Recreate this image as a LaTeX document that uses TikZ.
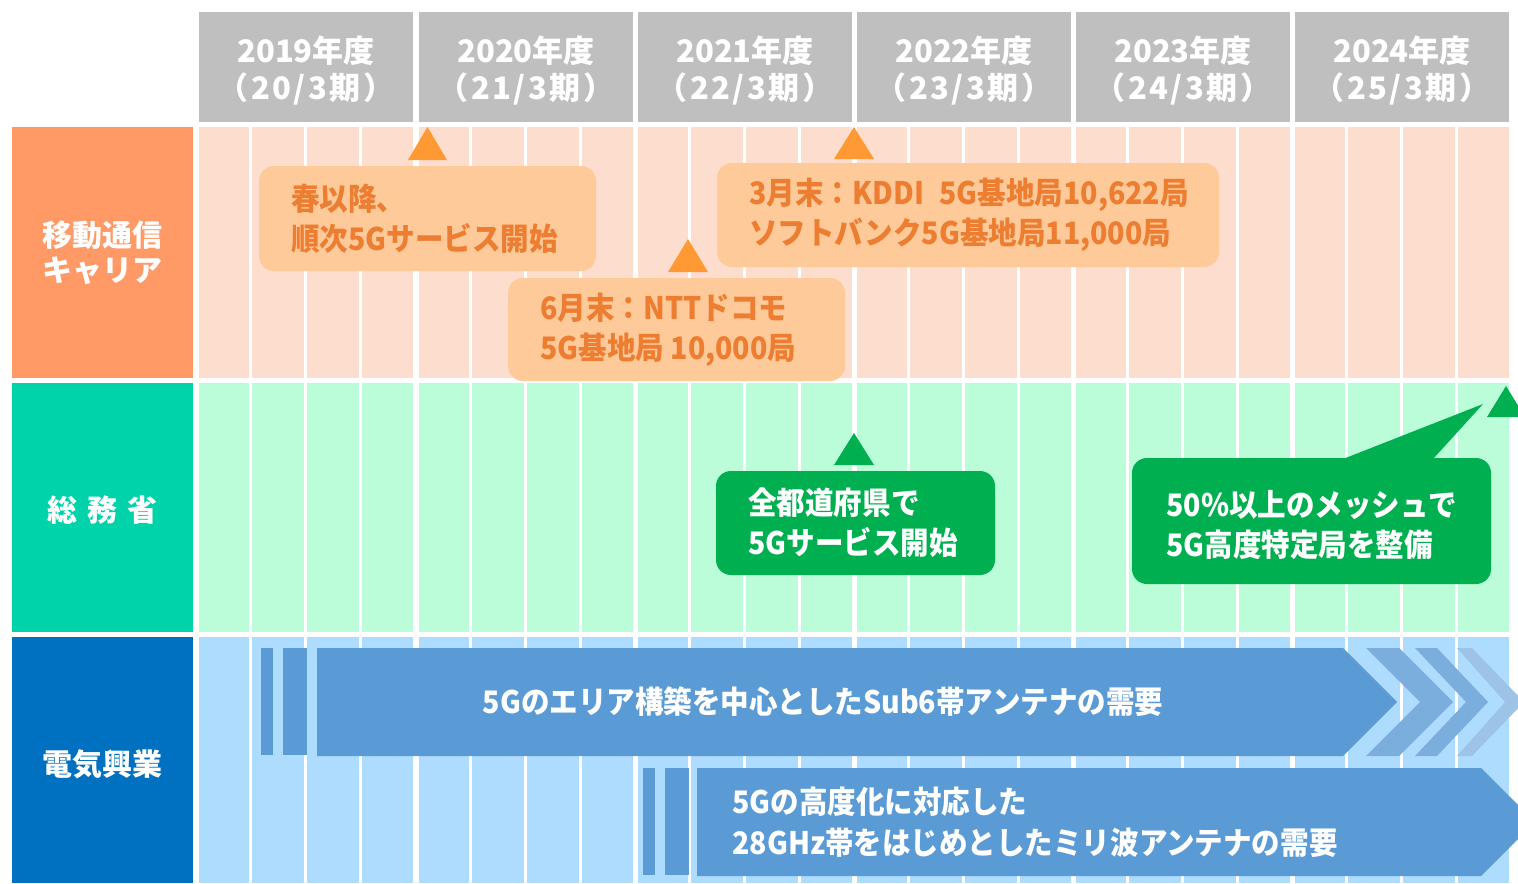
\documentclass[tikz,border=0pt]{standalone}
\usepackage{fontspec}
\newfontfamily\jp{Noto Sans CJK JP}
\newfontfamily\jpc[FakeStretch=0.92]{Noto Sans CJK JP}
\definecolor{hdr}{HTML}{BFBFBF}
\definecolor{olab}{HTML}{FF9966}
\definecolor{ocell}{HTML}{FDDDCD}
\definecolor{oboxc}{HTML}{FFCA99}
\definecolor{otxt}{HTML}{ED7D31}
\definecolor{otri}{HTML}{FF9933}
\definecolor{glab}{HTML}{00D3AA}
\definecolor{gcell}{HTML}{BBFDD9}
\definecolor{gdark}{HTML}{00B050}
\definecolor{blab}{HTML}{0070C0}
\definecolor{bcell}{HTML}{AEDCFE}
\definecolor{barr}{HTML}{5B9BD5}
\definecolor{bchev}{HTML}{7BADDD}
\definecolor{bchevb}{HTML}{9DC3E6}
\newcommand{\lsp}{\addfontfeature{LetterSpace=8}}
\tikzset{
  yearbox/.style={fill=hdr, text=white, minimum width=107pt, minimum height=55pt, inner sep=0pt, align=center, font=\jp\bfseries\fontsize{15.5}{18.5}\selectfont},
  rowlabel/.style={text=white, minimum width=90.5pt, inner sep=0pt, align=center, font=\jp\bfseries\fontsize{15}{17.5}\selectfont},
  callbox/.style={rounded corners=7.5pt, inner sep=0pt},
  calltext/.style={anchor=west, align=left, inner sep=0pt, font=\jpc\bfseries\fontsize{15.5}{20}\selectfont},
  arrtext/.style={text=white, inner sep=0pt, align=left, font=\jpc\bfseries\fontsize{15.5}{20.5}\selectfont},
}
\begin{document}
\begin{tikzpicture}[x=0.5pt,y=-0.5pt]
\useasboundingbox (0,0) rectangle (1518,883);
\fill[white] (0,0) rectangle (1518,883);
\begin{scope}
\clip (0,0) rectangle (1518,883);
% header
\fill[hdr] (199,12) rectangle (413,122);
\node[yearbox] (y19) at (306,67) {};
\node[yearbox] (y20) at (526,67) {};
\node[yearbox] (y21) at (745,67) {};
\node[yearbox] (y22) at (964,67) {};
\node[yearbox] (y23) at (1183,67) {};
\node[yearbox] (y24) at (1402,67) {};
\foreach \n/\y/\p in {y19/2019/20,y20/2020/21,y21/2021/22,y22/2022/23,y23/2023/24,y24/2024/25}{
  \node[yearbox, fill=none, minimum width=0pt, minimum height=0pt] (\n-t) at ([yshift=-2pt]\n.center) {\y 年度\\\lsp（\p/3期）};
}
% row labels
\node[rowlabel, fill=olab, minimum height=125.5pt] (lab1) at (102.5,252.5) {移動通信\\キャリア};
\node[rowlabel, fill=glab, minimum height=124.5pt] (lab2) at (102.5,507.5) {};
\node[rowlabel] (lab2t) at (102.5,510) {総\hspace{5pt}務\hspace{5pt}省};
\node[rowlabel, fill=blab, minimum height=123pt] (lab3) at (102.5,760) {};
\node[rowlabel] (lab3t) at (102.5,764) {電気興業};
% cells
\foreach \s in {199,419,638,857,1076,1295}{
  \foreach \a/\b in {0/50,53/105,108/160,163/214}{
    \fill[ocell] (\s+\a,127) rectangle (\s+\b,378);
    \fill[gcell] (\s+\a,383) rectangle (\s+\b,632);
    \fill[bcell] (\s+\a,637) rectangle (\s+\b,883);
  }
}
% orange row
\fill[otri] (408,160) -- (427.5,127) -- (447,160) -- cycle;
\node[callbox, fill=oboxc, minimum width=168.5pt, minimum height=52.5pt] (b1) at (427.5,218.5) {};
\node[calltext, text=otxt] (t1) at (291,218.5) {春以降、\\順次5Gサービス開始};
\fill[otri] (668,272) -- (688,239) -- (708,272) -- cycle;
\node[callbox, fill=oboxc, minimum width=168.5pt, minimum height=51.5pt] (b2) at (676.5,329.5) {};
\node[calltext, text=otxt] (t2) at (540,329.5) {6月末：NTTドコモ\\5G基地局 10,000局};
\fill[otri] (834,159) -- (854,127) -- (874,159) -- cycle;
\node[callbox, fill=oboxc, minimum width=251pt, minimum height=52pt] (b3) at (968,215) {};
\node[calltext, text=otxt] (t3) at (749,215) {3月末：KDDI\hspace{0.5em}5G基地局10,622局\\ソフトバンク5G基地局11,000局};
% green row
\fill[gdark] (834,465) -- (854,433) -- (874,465) -- cycle;
\node[callbox, fill=gdark, minimum width=139.5pt, minimum height=52pt] (b4) at (855.5,523) {};
\node[calltext, text=white] (t4) at (748,523) {全都道府県で\\5Gサービス開始};
\fill[gdark] (1487,417) -- (1506,386) -- (1525,417) -- cycle;
\node[callbox, fill=gdark, minimum width=179.5pt, minimum height=63pt] (b5) at (1311.5,521) {};
\fill[gdark] (1343,459) -- (1483,404) -- (1433,459) -- cycle;
\node[calltext, text=white] (t5) at (1166,525) {50\%以上のメッシュで\\5G高度特定局を整備};
% blue row
\fill[barr] (261,648) rectangle (273,755);
\fill[barr] (283,648) rectangle (307,755);
\fill[barr] (317,648) -- (1343,648) -- (1397,702) -- (1343,756) -- (317,756) -- cycle;
\fill[bchev] (1366,648) -- (1399,648) -- (1453,702) -- (1399,756) -- (1366,756) -- (1420,702) -- cycle;
\fill[bchev] (1415,648) -- (1437,648) -- (1488,702) -- (1437,756) -- (1415,756) -- (1466,702) -- cycle;
\fill[bchevb] (1457,648) -- (1472,648) -- (1524,702) -- (1472,756) -- (1457,756) -- (1505,702) -- cycle;
\node[arrtext] (a1) at (823,702) {5Gのエリア構築を中心としたSub6帯アンテナの需要};
\fill[barr] (643,768) rectangle (655,875);
\fill[barr] (665,768) rectangle (689,875);
\fill[barr] (697,768) -- (1481,768) -- (1535,822) -- (1481,876) -- (697,876) -- cycle;
\node[arrtext, anchor=west] (a2) at (732,822) {5Gの高度化に対応した\\28GHz帯をはじめとしたミリ波アンテナの需要};
\end{scope}
\end{tikzpicture}
\end{document}
